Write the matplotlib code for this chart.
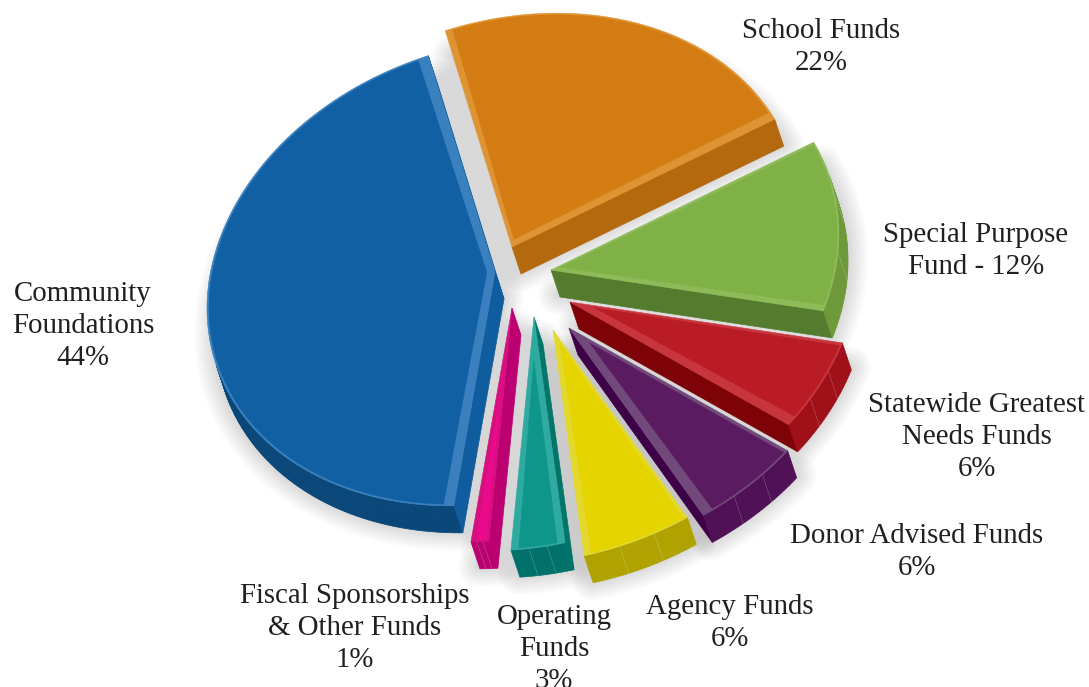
import numpy as np
import matplotlib
matplotlib.use("Agg")
import matplotlib.pyplot as plt
from matplotlib.patches import Polygon

# slices in drawing order, counter-clockwise from the top
names = ["Community\nFoundations\n44%", "Fiscal Sponsorships\n& Other Funds\n1%", "Operating\nFunds\n3%",
         "Agency Funds\n6%", "Donor Advised Funds\n6%", "Statewide Greatest\nNeeds Funds\n6%",
         "Special Purpose\nFund - 12%", "School Funds\n22%"]
shares = [44, 1, 3, 6, 6, 6, 12, 22]

# where each slice's point ended up after exploding (pixels)
apex_x = [495, 512, 534, 553, 569, 570, 551, 512]
apex_y = [272, 308, 317, 330, 328, 302, 270, 247]

top_colors = ["#1160A3", "#EC0A8C", "#0E968A", "#E5D400", "#5B1B61", "#BA1C26", "#7FB147", "#D47C14"]
bevel_colors = ["#3A80BE", "#D4107F", "#2FAAA0", "#E3D92E", "#714A7B", "#C8353D", "#8DBB58", "#DE9433"]
cut_colors = ["#0F5C9E", "#BD0071", "#00756A", "#B0A300", "#3E0047", "#7E0309", "#547B2E", "#B5690F"]
arc_colors = ["#0A4779", "#B8006E", "#00716A", "#B0A300", "#4F1055", "#A00F18", "#6E9939", "#B5690F"]
# bevel on the first and on the last straight edge of each slice
bevel_start = [8, 3, 4, 5, 8, 7, 4, 6]
bevel_end = [8, 2, 6, 2, 3, 2, 2, 4]

label_x = [83, 355, 554, 730, 917, 977, 976, 821]
label_y = [326, 628, 649, 623, 552, 437, 251, 47]

start_angle = 103.4
depth = np.array([9.0, 27.0])


def project(apex, t):
    # tilted ellipse of the 3d pie, y down
    t = np.radians(t)
    x = apex[0] + 288 * np.cos(t)
    y = apex[1] - (36.3 * np.cos(t) + 231 * np.sin(t))
    return np.column_stack([x, y])


def inner_face(apex, arc, w1, w2):
    # top face shrunk by the bevel widths
    a = np.array(apex, dtype=float)
    u1 = (arc[0] - a) / np.linalg.norm(arc[0] - a)
    u2 = (arc[-1] - a) / np.linalg.norm(arc[-1] - a)
    mid = arc[len(arc) // 2] - a
    n1 = np.array([-u1[1], u1[0]])
    n2 = np.array([-u2[1], u2[0]])
    if n1 @ mid < 0:
        n1 = -n1
    if n2 @ mid < 0:
        n2 = -n2
    m = np.array([n1, n2])
    corner = a + np.linalg.solve(m, [w1, w2])
    pts = a + (arc - a) * 0.993
    keep = ((pts - corner) @ n1 >= 0) & ((pts - corner) @ n2 >= 0)
    return np.vstack([corner, pts[keep]])


fig = plt.figure(figsize=(10.89, 6.87), dpi=100)
ax = fig.add_axes([0, 0, 1, 1])
ax.set_xlim(0, 1089)
ax.set_ylim(687, 0)
ax.axis("off")

angles = np.cumsum([0] + [s * 3.6 for s in shares]) + start_angle
outlines = []
for i in range(len(shares)):
    apex = (apex_x[i], apex_y[i])
    ts = np.linspace(angles[i], angles[i + 1], max(int(shares[i] * 5), 8))
    arc = project(apex, ts)
    outlines.append((apex, ts, arc))

# soft shadow under every slice
for apex, ts, arc in outlines:
    hull = np.vstack([apex, arc])
    for lw in np.arange(30, 0, -3):
        ax.add_patch(Polygon(hull + depth * 0.9, closed=True, facecolor="black", edgecolor="black",
                             lw=lw, alpha=0.016, joinstyle="round", zorder=1))

for i, (apex, ts, arc) in enumerate(outlines):
    face = np.vstack([apex, arc])
    n = len(face)
    x, y = face[:, 0], face[:, 1]
    area = np.sum(x * np.roll(y, -1) - np.roll(x, -1) * y)
    for k in range(n):
        p, q = face[k], face[(k + 1) % n]
        e = q - p
        normal = np.array([e[1], -e[0]]) * np.sign(area)
        if normal @ depth <= 0:
            continue
        is_cut = k == 0 or k == n - 1
        col = cut_colors[i] if is_cut else arc_colors[i]
        ax.add_patch(Polygon([p, q, q + depth, p + depth], closed=True, facecolor=col, edgecolor=col,
                             lw=0.5, zorder=2))
    # facet lines on the rim
    if shares[i] <= 12:
        for t in np.linspace(angles[i], angles[i + 1], 4)[1:-1]:
            pt = project(apex, [t])[0]
            if np.sin(np.radians(t)) < -0.1 or shares[i] == 12:
                ax.plot([pt[0], pt[0] + depth[0]], [pt[1], pt[1] + depth[1]], color="white", lw=0.4,
                        alpha=0.3, zorder=3)
    ax.add_patch(Polygon(face, closed=True, facecolor=bevel_colors[i], edgecolor=bevel_colors[i], lw=0.4, zorder=4))
    inner = inner_face(apex, arc, bevel_start[i], bevel_end[i])
    ax.add_patch(Polygon(inner, closed=True, facecolor=top_colors[i], edgecolor=top_colors[i], lw=0.3, zorder=5))

for name, lx, ly in zip(names, label_x, label_y):
    ax.text(lx, ly, name, ha="center", va="center", family="Liberation Serif", fontsize=20.8,
            color="#231F20", linespacing=1.28, zorder=6)

fig.savefig("out.png", dpi=100)
plt.close(fig)
